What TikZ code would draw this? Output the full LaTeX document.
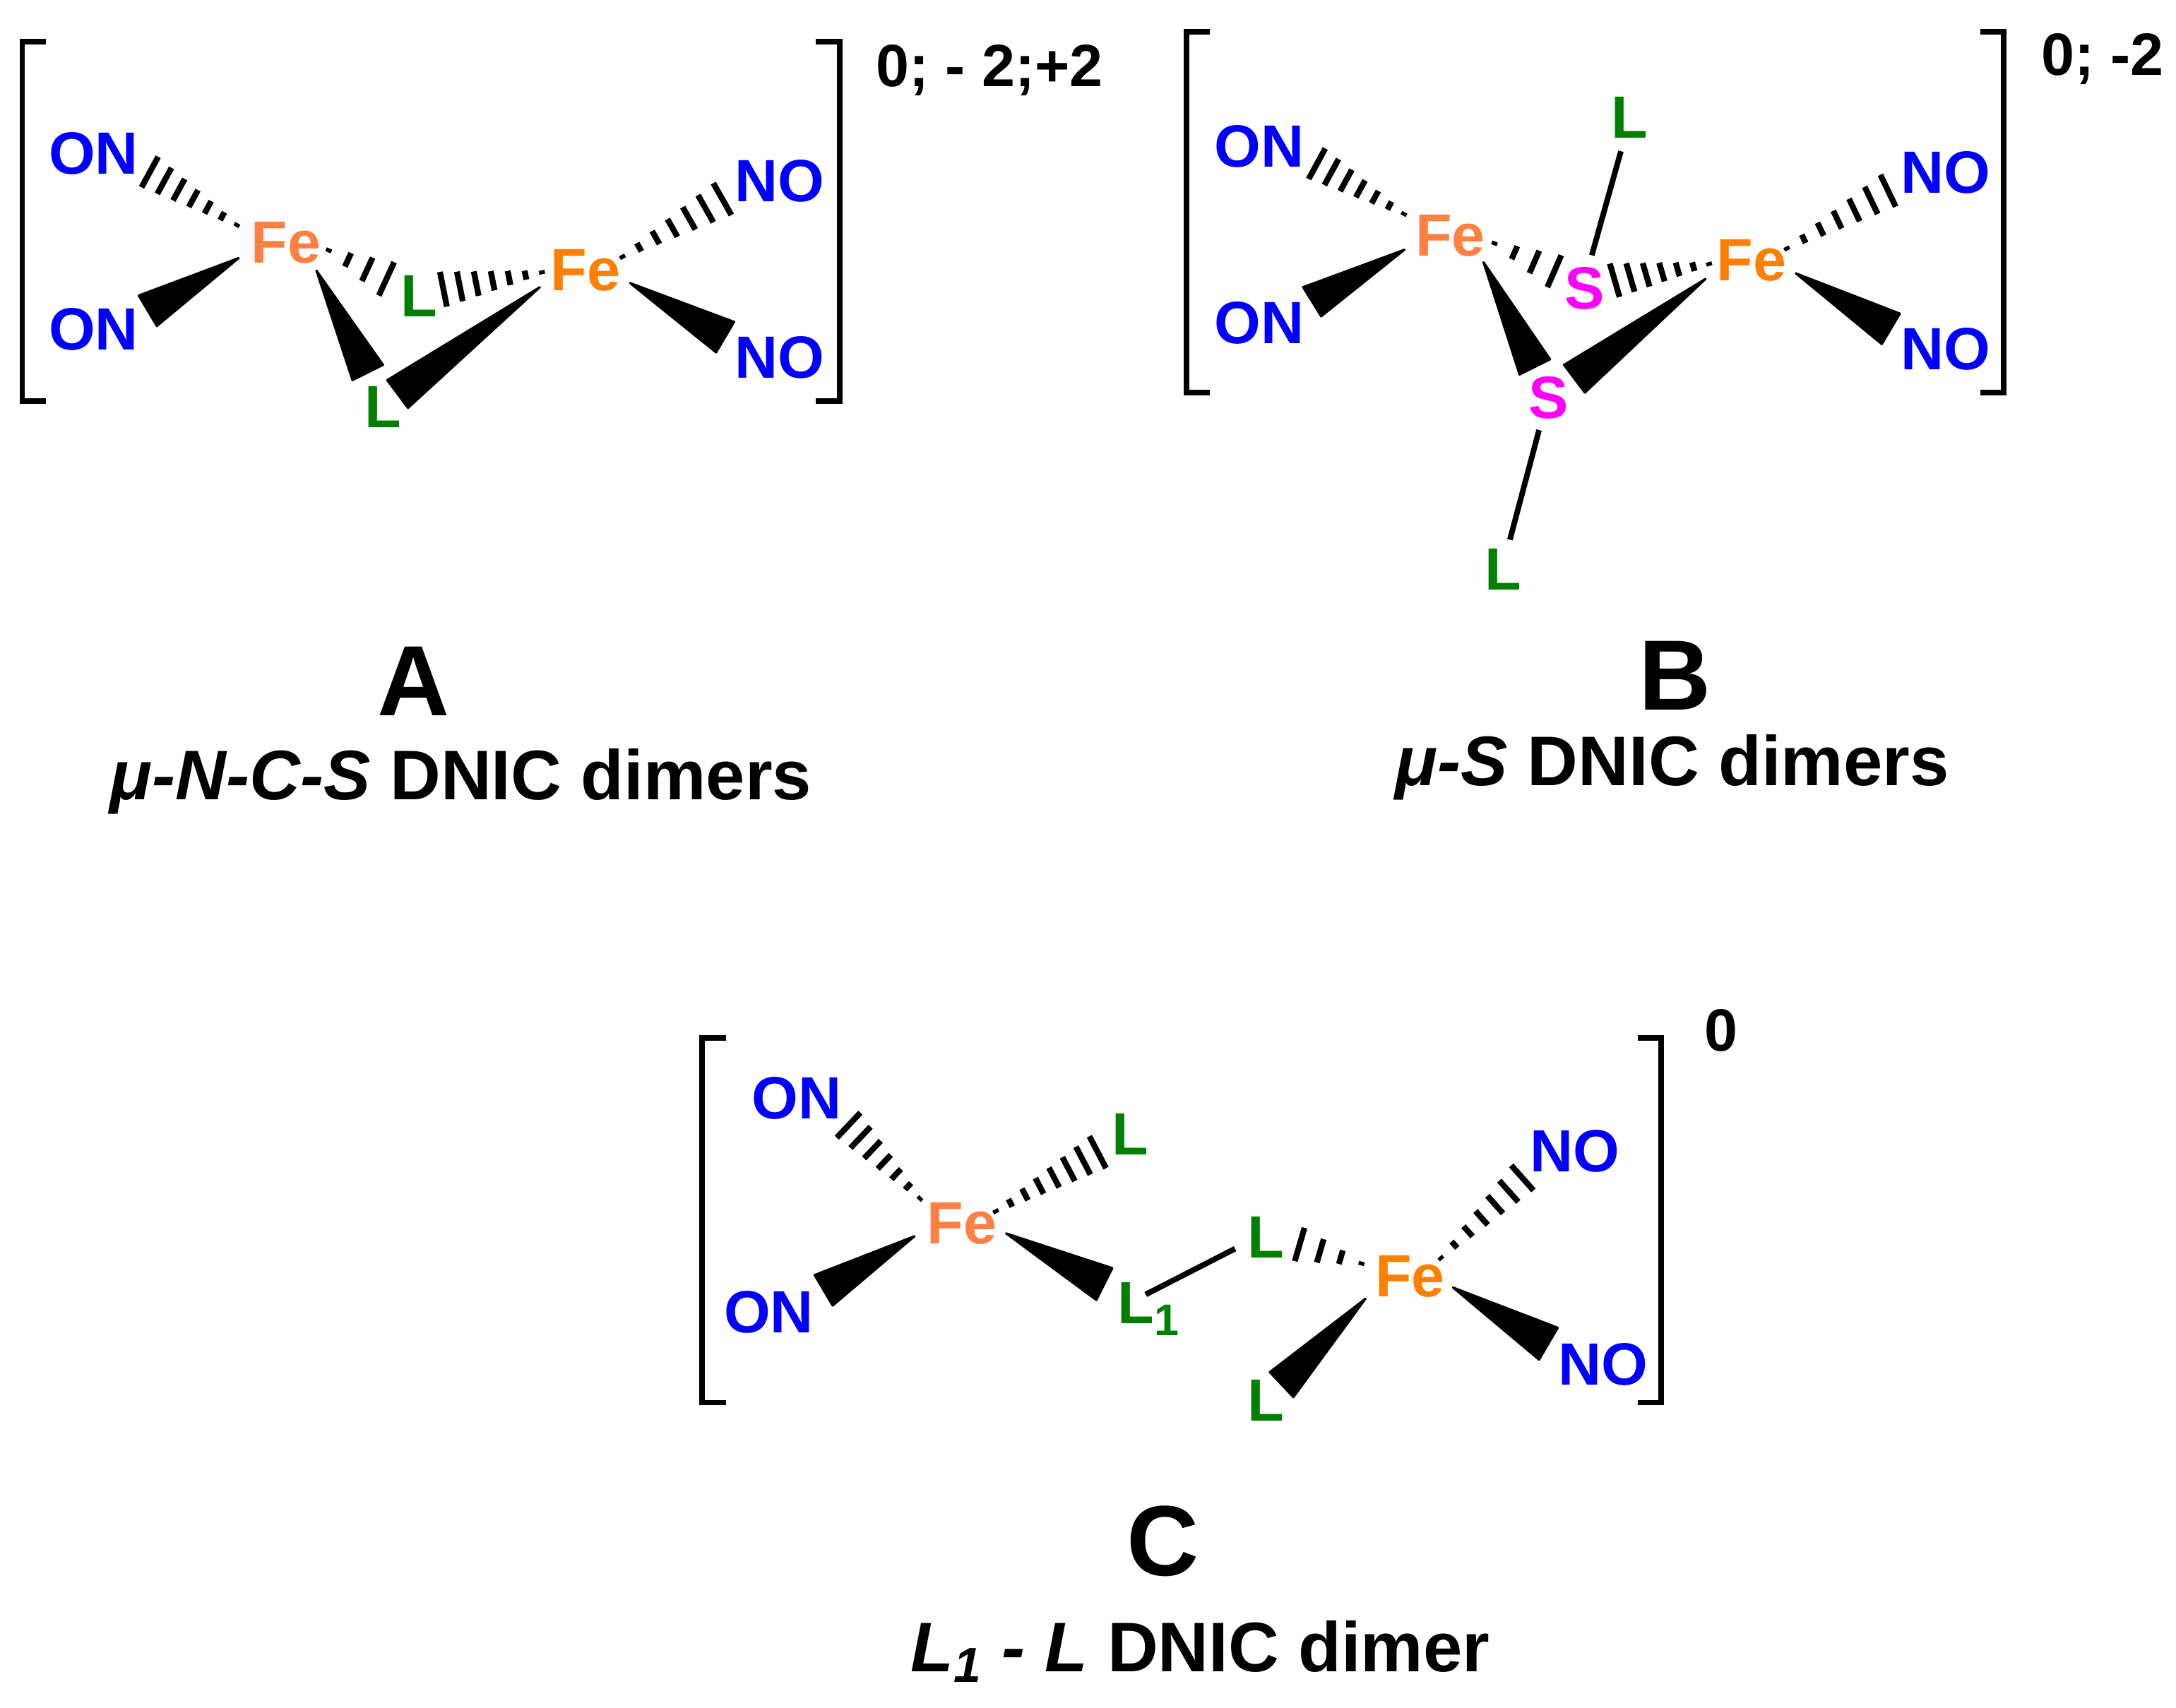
\documentclass[tikz,border=0pt]{standalone}
\usepackage{fontspec}
\setmainfont{Liberation Sans}
\usetikzlibrary{calc}
\definecolor{feone}{RGB}{255,128,64}
\definecolor{fetwo}{RGB}{255,128,0}
\definecolor{lgreen}{RGB}{0,128,0}
\definecolor{noblue}{RGB}{0,0,255}
\definecolor{smag}{RGB}{255,0,255}
\tikzset{
  atom/.style={inner sep=0pt,font=\fontsize{21.5}{24}\selectfont\bfseries,text height=15.4pt,text depth=0pt,anchor=center},
  feA/.style={atom,text=feone}, feB/.style={atom,text=fetwo},
  ligand/.style={atom,text=lgreen}, nitro/.style={atom,text=noblue}, sulfur/.style={atom,text=smag},
  charge/.style={atom,text=black},
  letter/.style={inner sep=0pt,font=\fontsize{36}{40}\selectfont\bfseries,text height=25.8pt,text depth=0pt},
  caption/.style={inner sep=0pt,font=\fontsize{25.3}{28}\selectfont\bfseries,text height=18.1pt,text depth=0pt},
  brk/.style={draw=black,line width=2pt,line cap=butt,line join=miter},
  bond/.style={draw=black,line width=2pt},
  hashline/.style={draw=black,line width=2.1pt},
  solidw/.style={fill=black,draw=black,line width=0.8pt,line join=round}
}
% name, tip, wide a, wide b
\newcommand{\solidwedge}[4]{%
  \coordinate (#1t) at #2; \coordinate (#1a) at #3; \coordinate (#1b) at #4;
  \path[solidw] (#1t) -- (#1a) -- (#1b) -- cycle;}
% name, tip, wide a, wide b, number of strokes
\newcommand{\hashwedge}[5]{%
  \coordinate (#1t) at #2; \coordinate (#1a) at #3; \coordinate (#1b) at #4;
  \coordinate (#1m) at ($(#1a)!0.5!(#1b)$);
  \coordinate (#1x) at ($(#1m)!1.1!(#1t)$);
  \pgfmathsetmacro{\laststroke}{#5-1}%
  \foreach \ii in {0,...,\laststroke}{%
    \pgfmathsetmacro{\ff}{0.89*\ii/\laststroke}%
    \draw[hashline] ($(#1a)!\ff!(#1x)$) -- ($(#1b)!\ff!(#1x)$);}}
% name, left x, right x, top y, bottom y, tick length
\newcommand{\brackets}[6]{%
  \coordinate (#1tl) at (#2,#4); \coordinate (#1bl) at (#2,#5);
  \coordinate (#1tr) at (#3,#4); \coordinate (#1br) at (#3,#5);
  \draw[brk] ($(#1tl)+(#6,0)$) -- (#1tl) -- (#1bl) -- ($(#1bl)+(#6,0)$);
  \draw[brk] ($(#1tr)+(-#6,0)$) -- (#1tr) -- (#1br) -- ($(#1br)+(-#6,0)$);}
\begin{document}
\begin{tikzpicture}[x=0.5pt,y=-0.5pt]
\useasboundingbox (0,0) rectangle (1568,1230.6);
% ---------- A
\brackets{a}{16}{605}{30}{289}{17}
\node[nitro] (aON1) at (67.5,110) {ON};
\node[nitro] (aON2) at (67.5,237) {ON};
\node[feA] (aFe1) at (206,174) {Fe};
\node[feB] (aFe2) at (422,194) {Fe};
\node[nitro] (aNO1) at (562,130) {NO};
\node[nitro] (aNO2) at (562,257) {NO};
\node[ligand] (aL1) at (302,213) {L};
\node[ligand] (aL2) at (276,293) {L};
\node[charge] (aq) at (713,47) {0; - 2;+2};
\hashwedge{ah1}{(172,163)}{(114,113)}{(102,135)}{7}
\solidwedge{aw1}{(172,186)}{(100,213)}{(113,235)}
\hashwedge{ah2}{(236,180)}{(284,189)}{(273,213)}{4}
\hashwedge{ah3}{(392,196)}{(317,196)}{(322,221)}{7}
\hashwedge{ah4}{(447,186)}{(514,132)}{(527,155)}{7}
\solidwedge{aw2}{(454,204)}{(529,232)}{(516,254)}
\solidwedge{aw3}{(228,195)}{(276,263)}{(254,274)}
\solidwedge{aw4}{(389,207)}{(279,274)}{(294,294)}
\node[letter] (aT) at (298,490) {A};
\node[caption] (aC) at (332,558) {\textit{μ-N-C-S} DNIC dimers};
% ---------- B
\brackets{b}{855}{1444}{23}{283}{17}
\node[nitro] (bON1) at (907.5,105) {ON};
\node[nitro] (bON2) at (907.5,232) {ON};
\node[feA] (bFe1) at (1045,169) {Fe};
\node[feB] (bFe2) at (1262,187) {Fe};
\node[nitro] (bNO1) at (1402,124) {NO};
\node[nitro] (bNO2) at (1402,251) {NO};
\node[ligand] (bL1) at (1174,84) {L};
\node[sulfur] (bS1) at (1142,207) {S};
\node[sulfur] (bS2) at (1116,286) {S};
\node[ligand] (bL2) at (1083,410) {L};
\node[charge] (bq) at (1515,39) {0; -2};
\hashwedge{bh1}{(1013,155)}{(955,107)}{(943,129)}{7}
\solidwedge{bw1}{(1012,180)}{(939,207)}{(952,228)}
\hashwedge{bh2}{(1076,175)}{(1125,184)}{(1115,207)}{4}
\hashwedge{bh3}{(1233,190)}{(1160,190)}{(1167,214)}{7}
\hashwedge{bh4}{(1286,180)}{(1355,126)}{(1366,149)}{7}
\solidwedge{bw2}{(1294,197)}{(1369,226)}{(1356,248)}
\solidwedge{bw3}{(1069,189)}{(1117,259)}{(1095,270)}
\solidwedge{bw4}{(1229,201)}{(1127,263)}{(1142,283)}
\coordinate (bb1a) at (1168,109); \coordinate (bb1b) at (1147,184);
\coordinate (bb2a) at (1109,310); \coordinate (bb2b) at (1088,389);
\draw[bond] (bb1a) -- (bb1b);
\draw[bond] (bb2a) -- (bb2b);
\node[letter] (bT) at (1207,486) {B};
\node[caption] (bC) at (1205,548) {\textit{μ-S} DNIC dimers};
% ---------- C
\brackets{c}{506}{1197}{748}{1011}{17}
\node[nitro] (cON1) at (574,791) {ON};
\node[nitro] (cON2) at (554,945) {ON};
\node[feA] (cFe1) at (693,881) {Fe};
\node[feB] (cFe2) at (1016,919) {Fe};
\node[nitro] (cNO1) at (1135,829) {NO};
\node[nitro] (cNO2) at (1155,983) {NO};
\node[ligand] (cL1) at (814.5,817) {L};
\node[ligand,anchor=base west,text height=,text depth=] (cL2) at (805,954) {L\raisebox{-4.4pt}{\fontsize{16}{16}\selectfont 1}};
\node[ligand] (cL3) at (912,891) {L};
\node[ligand] (cL4) at (912,1009) {L};
\node[charge] (cq) at (1240,742) {0};
\hashwedge{ch1}{(664,865)}{(620,802)}{(603,820)}{7}
\hashwedge{ch2}{(716,874)}{(785,819)}{(797,842)}{8}
\solidwedge{cw1}{(659,891)}{(587,919)}{(600,941)}
\solidwedge{cw2}{(725,889)}{(801.5,914)}{(790,937)}
\coordinate (cb1a) at (825.6,933); \coordinate (cb1b) at (890,900);
\draw[bond] (cb1a) -- (cb1b);
\hashwedge{ch3}{(982,911)}{(940,885)}{(933,909)}{4}
\hashwedge{ch4}{(1037,908)}{(1089,840)}{(1105,858)}{7}
\solidwedge{cw3}{(1047,928)}{(1122.5,957)}{(1109,980)}
\solidwedge{cw4}{(984,936)}{(915,989)}{(932,1007)}
\node[letter] (cT) at (838,1110) {C};
\node[caption] (cC) at (865,1187) {\textit{L\textsubscript{1} - L} DNIC dimer};
\end{tikzpicture}
\end{document}
